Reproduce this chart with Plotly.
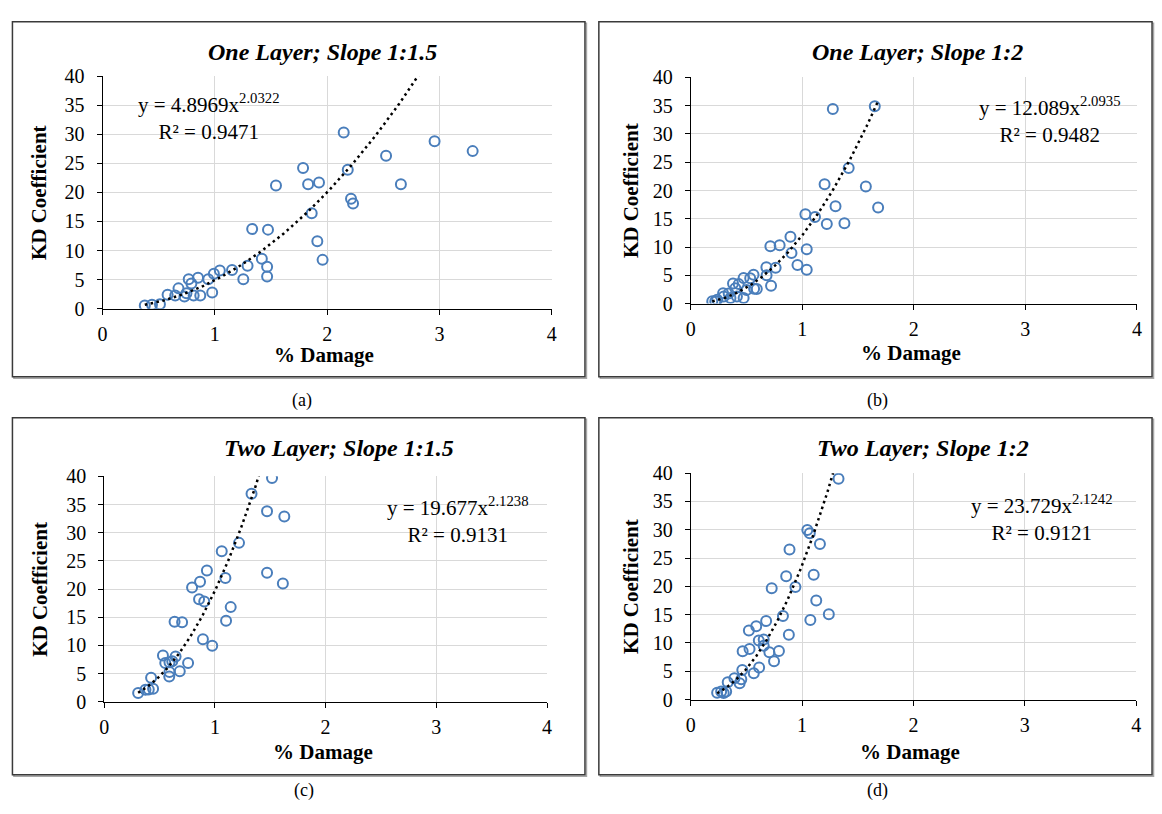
import numpy as np
import plotly.graph_objects as go

# ---------------- data ----------------
a_x = [2.147, 2.956, 3.295, 2.524, 1.785, 2.183, 1.544, 1.83, 1.927, 2.656, 2.212, 2.23, 1.862,
       1.332, 1.473, 1.912, 1.959, 1.418, 1.465, 1.465, 1.291, 1.253, 1.153, 1.044, 0.991, 0.941,
       0.976, 0.85, 0.767, 0.791, 0.676, 0.747, 0.87, 0.811, 0.729, 0.647, 0.579, 0.511, 0.44, 0.376]
a_y = [30.3, 28.8, 27.1, 26.3, 24.2, 23.9, 21.2, 21.4, 21.7, 21.4, 18.9, 18.1, 16.4,
       13.7, 13.6, 11.6, 8.4, 8.6, 7.2, 5.55, 7.4, 5.05, 6.67, 6.56, 6.0, 5.05,
       2.78, 5.33, 5.05, 4.33, 3.5, 2.67, 2.28, 2.28, 2.1, 2.28, 2.4, 0.78, 0.67, 0.56]

b_x = [1.274, 1.65, 1.416, 1.2, 1.57, 1.298, 1.68, 1.028, 1.114, 1.22, 1.378, 0.894, 0.714,
       0.797, 1.04, 0.903, 0.957, 1.04, 0.678, 0.761, 0.68, 0.72, 0.563, 0.533, 0.474, 0.592,
       0.568, 0.5, 0.43, 0.379, 0.4, 0.414, 0.356, 0.296, 0.29, 0.237, 0.193, 0.22, 0.474, 0.34]
b_y = [34.4, 34.9, 24.0, 21.1, 20.7, 17.2, 17.0, 15.8, 15.3, 14.06, 14.2, 11.8, 10.16,
       10.33, 9.59, 8.95, 6.83, 5.97, 6.43, 6.32, 5.0, 3.16, 5.1, 4.5, 4.54, 2.58,
       2.64, 2.4, 3.44, 3.55, 2.7, 1.27, 1.0, 1.27, 1.84, 0.69, 0.4, 0.4, 1.0, 1.8]

c_x = [1.516, 1.331, 1.471, 1.627, 1.218, 1.062, 0.928, 1.471, 1.095, 1.614, 0.866, 0.794,
       0.857, 0.904, 1.143, 1.101, 0.636, 0.704, 0.892, 0.976, 0.531, 0.645, 0.552, 0.615,
       0.758, 0.59, 0.683, 0.588, 0.59, 0.424, 0.442, 0.403, 0.373, 0.307]
c_y = [39.7, 36.9, 33.8, 32.9, 28.2, 26.7, 23.3, 22.9, 21.95, 21.0, 21.3, 20.3,
       18.2, 17.8, 16.8, 14.4, 14.2, 14.1, 11.1, 9.94, 8.2, 8.05, 6.9, 7.2,
       6.9, 7.0, 5.4, 4.48, 5.3, 4.25, 2.3, 2.2, 2.15, 1.55]

d_x = [1.327, 1.047, 1.069, 1.16, 0.887, 0.857, 1.104, 0.94, 0.727, 1.127, 1.24, 1.074,
       0.828, 0.677, 0.588, 0.522, 0.881, 0.611, 0.655, 0.655, 0.528, 0.466, 0.706, 0.792,
       0.748, 0.614, 0.566, 0.463, 0.454, 0.439, 0.392, 0.332, 0.318, 0.273, 0.237, 0.296]
d_y = [39.0, 29.96, 29.4, 27.5, 26.5, 21.8, 22.06, 19.88, 19.65, 17.5, 15.07, 14.04,
       14.78, 13.87, 12.95, 12.2, 11.46, 10.43, 10.6, 9.5, 8.93, 8.54, 8.37, 8.6,
       6.77, 5.67, 4.64, 5.22, 3.61, 2.87, 3.78, 3.04, 1.44, 1.44, 1.2, 1.15]

panel_titles = ["One Layer; Slope 1:1.5", "One Layer; Slope 1:2",
                "Two Layer; Slope 1:1.5", "Two Layer; Slope 1:2"]
fit_coef = [4.8969, 12.089, 19.677, 23.729]
fit_exp = [2.0322, 2.0935, 2.1238, 2.1242]
fit_r2 = ["0.9471", "0.9482", "0.9131", "0.9121"]
captions = ["(a)", "(b)", "(c)", "(d)"]
x_ticks = [0, 1, 2, 3, 4]
y_ticks = [0, 5, 10, 15, 20, 25, 30, 35, 40]

xs = [a_x, b_x, c_x, d_x]
ys = [a_y, b_y, c_y, d_y]

# ---------------- layout geometry (pixels) ----------------
W, H = 1162, 814
FONT = "Liberation Serif"
BLUE = "#4a7ebb"

def px(v):
    return v / W

def py(v):
    return 1 - v / H

geo = [
    dict(xd=(98.4, 551.6), yd=(306.0, 66.9), title=(320, 42), eq=(205, 108.5),
         ylab=35, xlab=354, cap=(300, 400), box=(7.5, 11, 585, 376)),
    dict(xd=(691.7, 1141.7), yd=(300.7, 68.3), title=(920, 42), eq=(1054, 112.5),
         ylab=631, xlab=352, cap=(880, 400), box=(599, 11, 1157, 376)),
    dict(xd=(100.0, 546.8), yd=(710.0, 478.3), title=(337, 449), eq=(456, 523.5),
         ylab=35, xlab=762, cap=(302, 801), box=(7.5, 418, 585, 785)),
    dict(xd=(691.7, 1141.0), yd=(707.7, 475.0), title=(926, 449), eq=(1046, 521),
         ylab=632, xlab=762, cap=(880, 801), box=(599, 418, 1157, 785)),
]

fig = go.Figure()
annotations = []
shapes = []

for i in range(4):
    g = geo[i]
    sfx = "" if i == 0 else str(i + 1)
    xa, ya = "x" + sfx, "y" + sfx

    # scatter points
    fig.add_trace(go.Scatter(
        x=xs[i], y=ys[i], mode="markers", xaxis=xa, yaxis=ya, showlegend=False,
        marker=dict(symbol="circle-open", size=10, color=BLUE, line=dict(width=2, color=BLUE)),
    ))
    # power trendline from the fitted coefficients
    tx = np.linspace(min(xs[i]), max(xs[i]), 300)
    ty = fit_coef[i] * tx ** fit_exp[i]
    fig.add_trace(go.Scatter(
        x=tx, y=ty, mode="lines", xaxis=xa, yaxis=ya, showlegend=False,
        line=dict(color="black", width=2.5, dash="2.5px,3.5px"),
    ))

    axis_common = dict(
        showgrid=True, gridcolor="#d9d9d9", gridwidth=1,
        showline=True, linecolor="black", linewidth=1,
        ticks="outside", ticklen=5, tickcolor="black", tickwidth=1,
        tickfont=dict(family=FONT, size=20, color="black"),
        zeroline=False, fixedrange=True,
    )
    fig.update_layout({
        ("xaxis" + sfx): dict(
            axis_common, domain=[px(g["xd"][0]), px(g["xd"][1])], range=[0, 4],
            tickvals=x_ticks, anchor=ya, ticklabelstandoff=2),
        ("yaxis" + sfx): dict(
            axis_common, domain=[py(g["yd"][0]), py(g["yd"][1])], range=[0, 40],
            tickvals=y_ticks, anchor=xa, ticklabelstandoff=8),
    })

    # panel title
    annotations.append(dict(
        x=px(g["title"][0]), y=py(g["title"][1]), xref="paper", yref="paper",
        text="<b><i>" + panel_titles[i] + "</i></b>", showarrow=False,
        font=dict(family=FONT, size=24, color="black"),
        xanchor="center", yanchor="middle"))
    # trendline equation
    annotations.append(dict(
        x=px(g["eq"][0]), y=py(g["eq"][1]), xref="paper", yref="paper",
        text="y = %sx<sup>%s</sup><br>R² = %s" % (fit_coef[i], fit_exp[i], fit_r2[i]),
        showarrow=False, align="center",
        font=dict(family=FONT, size=21, color="black"), xanchor="center", yanchor="middle"))
    # axis titles
    annotations.append(dict(
        x=px(g["ylab"]), y=py((g["yd"][0] + g["yd"][1]) / 2), xref="paper", yref="paper",
        text="<b>KD Coefficient</b>", textangle=-90, showarrow=False,
        font=dict(family=FONT, size=21, color="black"),
        xanchor="center", yanchor="middle"))
    annotations.append(dict(
        x=px((g["xd"][0] + g["xd"][1]) / 2 - 3), y=py(g["xlab"]), xref="paper", yref="paper",
        text="<b>% Damage</b>", showarrow=False,
        font=dict(family=FONT, size=21, color="black"),
        xanchor="center", yanchor="middle"))
    # caption
    annotations.append(dict(
        x=px(g["cap"][0]), y=py(g["cap"][1]), xref="paper", yref="paper",
        text=captions[i], showarrow=False,
        font=dict(family=FONT, size=18, color="black"), xanchor="center", yanchor="middle"))
    # chart-area box with a light shadow
    x0, y0, x1, y1 = g["box"]
    shapes.append(dict(type="rect", xref="paper", yref="paper",
                       x0=px(x0 + 1.5), y0=py(y1 + 1.5), x1=px(x1 + 1.5), y1=py(y0 + 1.5),
                       line=dict(color="#a6a6a6", width=1.5), layer="below"))
    shapes.append(dict(type="rect", xref="paper", yref="paper",
                       x0=px(x0), y0=py(y1), x1=px(x1), y1=py(y0),
                       line=dict(color="#3a3a3a", width=1.5), fillcolor="white", layer="below"))

fig.update_layout(
    width=W, height=H, margin=dict(l=0, r=0, t=0, b=0),
    paper_bgcolor="white", plot_bgcolor="rgba(0,0,0,0)",
    annotations=annotations, shapes=shapes, showlegend=False,
)

fig.write_html("out.html", config={"displayModeBar": False})
